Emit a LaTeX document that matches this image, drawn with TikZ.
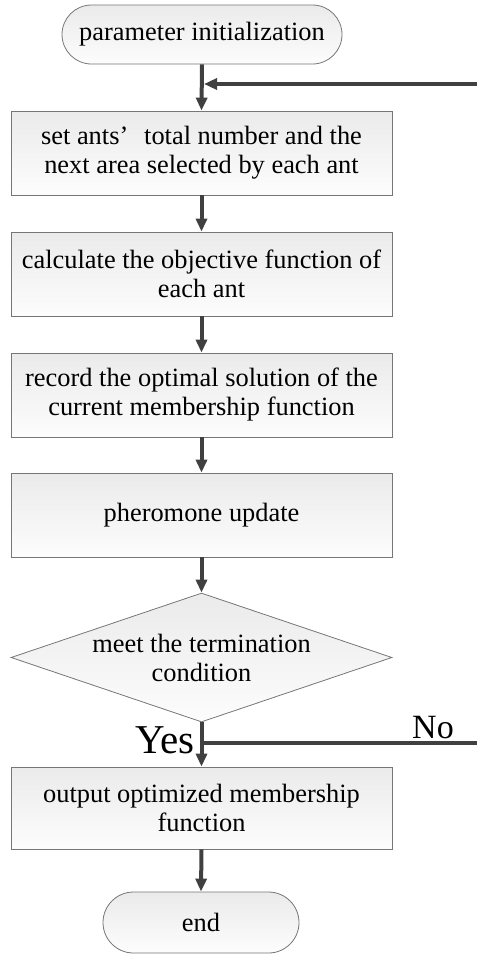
\documentclass[tikz,border=0pt]{standalone}
\usepackage{fontspec}
\setmainfont{Liberation Serif}
\usetikzlibrary{arrows.meta,shapes.geometric,shapes.misc}
\definecolor{flowline}{RGB}{64,64,64}
\definecolor{edgegray}{RGB}{118,118,118}
\tikzset{
  shade box/.style={draw=edgegray,line width=.8pt,top color=black!8,bottom color=black!1,inner sep=0pt,align=center,font=\fontsize{26.4}{29}\selectfont},
  procbox/.style={shade box,rectangle,minimum width=381pt,minimum height=84pt},
  termbox/.style={shade box,rounded rectangle},
  decbox/.style={shade box,diamond,aspect=2.95,minimum width=381pt,minimum height=129pt},
  flow/.style={draw=flowline,line width=4pt,-{Triangle[width=11pt,length=13pt]}},
  branch/.style={draw=flowline,line width=4pt},
}
\begin{document}
\begin{tikzpicture}[x=1pt,y=-1pt]
  \useasboundingbox (0,0) rectangle (477,954);
  \node[termbox,minimum width=280pt,minimum height=59pt] (init) at (202,34.5) {parameter initialization};
  \node[procbox] (ants) at (201.5,153) {set ants’\hspace{.6em}total number and the\\next area selected by each ant};
  \node[procbox] (objf) at (201.5,274) {calculate the objective function of\\each ant};
  \node[procbox] (best) at (201.5,395) {record the optimal solution of the\\current membership function};
  \node[procbox] (pher) at (201.5,515) {pheromone update};
  \node[decbox] (stop) at (201.5,657.5) {meet the termination\\condition};
  \node[procbox,minimum height=82pt] (outp) at (201.5,808) {output optimized membership\\function};
  \node[termbox,minimum width=196pt,minimum height=61pt] (end) at (201,922.5) {end};
  \coordinate (back) at (477,84);
  \coordinate (noend) at (477,743);
  % main flow
  \draw[flow] (init.south) -- (ants.north);
  \draw[flow] (ants.south) -- (objf.north);
  \draw[flow] (objf.south) -- (best.north);
  \draw[flow] (best.south) -- (pher.north);
  \draw[flow] (pher.south) -- (stop.north);
  \draw[flow] (stop.south) -- (outp.north);
  \draw[flow] (outp.south) -- (end.north);
  % loop back
  \draw[flow,shorten >=2pt] (back) -- (init.south |- back);
  \draw[branch] (stop.south |- noend) -- (noend);
  \node[anchor=base east,inner sep=0pt,font=\fontsize{41}{41}\selectfont] (yes) at (195,753) {Yes};
  \node[anchor=base west,inner sep=0pt,font=\fontsize{34}{34}\selectfont] (no) at (412,738) {No};
\end{tikzpicture}
\end{document}
